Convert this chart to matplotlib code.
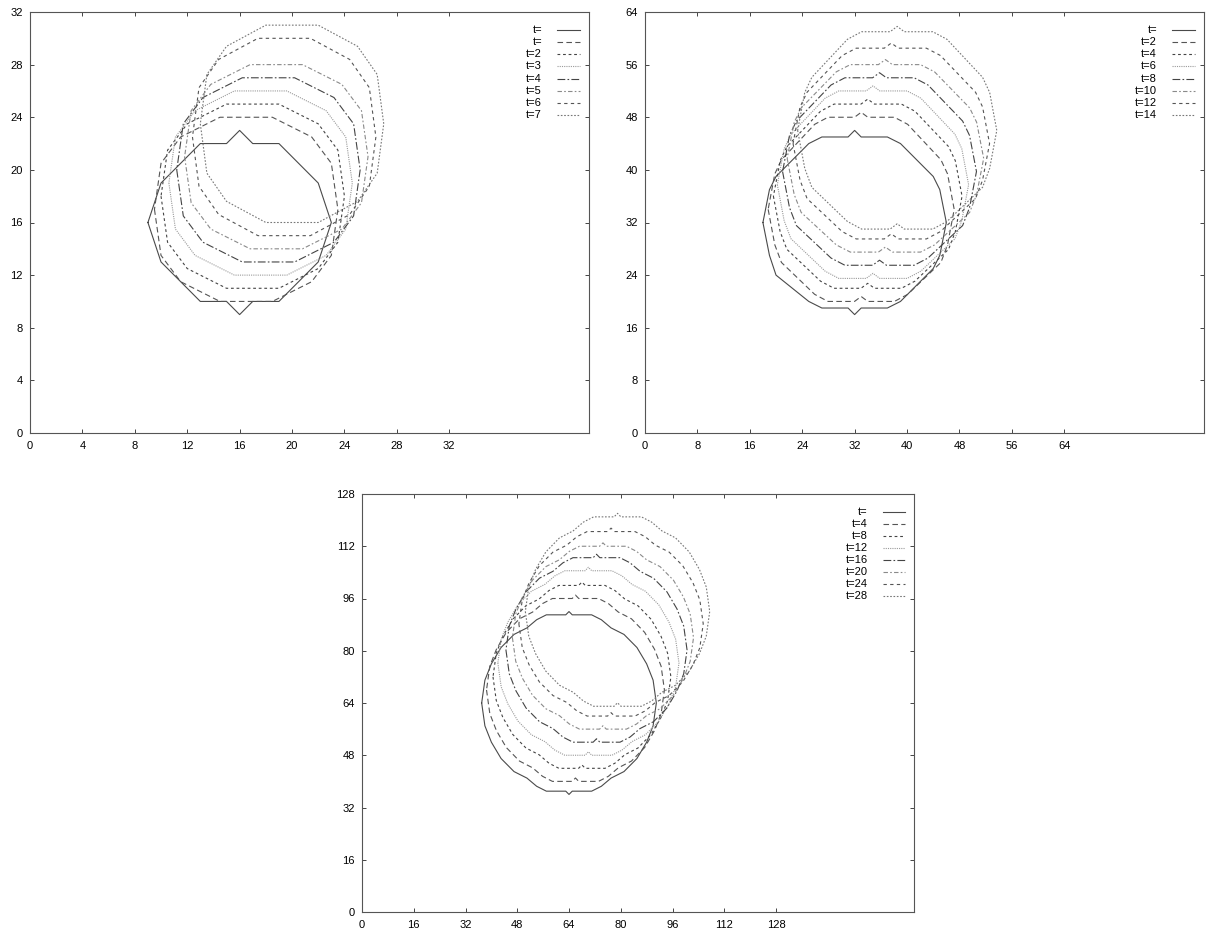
import matplotlib
matplotlib.use("Agg")
import matplotlib.pyplot as plt
from matplotlib.transforms import Affine2D

# fuente parecida a la de gnuplot (helvetica)
plt.rcParams['font.family'] = ['Liberation Sans', 'DejaVu Sans']
plt.rcParams['font.size'] = 8

# ------------------------------
# Datos
# ------------------------------

# Panel 1: malla de 32
labels1 = ["t=", "t=", "t=2", "t=3", "t=4", "t=5", "t=6", "t=7"]
circ1_x = [9, 10, 13, 15, 16, 17, 19, 22, 23, 22, 19, 17, 16, 15, 13, 10, 9]
circ1_y = [16, 13, 10, 10, 9, 10, 10, 13, 16, 19, 22, 22, 23, 22, 22, 19, 16]
# contorno de las curvas desplazadas, relativo al centro (medio ancho 7, media altura 7)
shape1_x = [-7, -6.5, -5, -2, 2, 5, 6.5, 7, 6.5, 5, 2, -2, -5, -6.5, -7]
shape1_y = [0, -3.5, -5.5, -7, -7, -5.5, -3.5, 0, 3.5, 5.5, 7, 7, 5.5, 3.5, 0]
cx1 = [16.5, 17, 17.6, 18.2, 18.8, 19.4, 20]
cy1 = [17, 18, 19, 20, 21, 22.5, 23.5]
a1 = [7, 7, 7, 7, 7, 7, 7]
h1 = [7, 7, 7, 7, 7, 7.5, 7.5]

# Panel 2: malla de 64
labels2 = ["t=", "t=2", "t=4", "t=6", "t=8", "t=10", "t=12", "t=14"]
circ2_x = [18, 19, 20, 25, 27, 31, 32, 33, 37, 39, 44, 45, 46, 45, 44, 39, 37, 33, 32, 31, 27, 25, 20, 19, 18]
circ2_y = [32, 27, 24, 20, 19, 19, 18, 19, 19, 20, 25, 27, 32, 37, 39, 44, 45, 45, 46, 45, 45, 44, 39, 37, 32]
shape2_x = [-14, -13, -12, -7, -5, -1, 0, 1, 5, 7, 12, 13, 14, 13, 12, 7, 5, 1, 0, -1, -5, -7, -12, -13, -14]
shape2_y = [0, -5, -7.5, -12, -13, -13, -12.3, -13, -13, -12, -7.5, -5, 0, 5, 7, 12, 13, 13, 13.7, 13, 13, 12, 7, 5, 0]
cx2 = [33, 34, 34.8, 35.8, 36.7, 37.6, 38.5]
cy2 = [34, 36, 37.75, 39.75, 41.75, 44, 46]
a2 = [14.2, 14.4, 14.6, 14.8, 15, 15, 15.2]
h2 = [14, 14, 14.25, 14.25, 14.25, 14.5, 15]

# Panel 3: malla de 128
labels3 = ["t=", "t=4", "t=8", "t=12", "t=16", "t=20", "t=24", "t=28"]
circ3_x = [37, 38, 40, 43, 47, 51, 54, 57, 63, 64, 65, 71, 74, 77, 81, 85, 88, 90, 91,
           90, 88, 85, 81, 77, 74, 71, 65, 64, 63, 57, 54, 51, 47, 43, 40, 38, 37]
circ3_y = [64, 57, 52, 47, 43, 41, 38.5, 37, 37, 36, 37, 37, 38.5, 41, 43, 47, 52, 57, 64,
           71, 76, 81, 85, 87, 89.5, 91, 91, 92, 91, 91, 89.5, 87, 85, 81, 76, 71, 64]
shape3_x = [-27, -26, -24, -21, -17, -13, -10, -7, -1, 0, 1, 7, 10, 13, 17, 21, 24, 26, 27,
            26, 24, 21, 17, 13, 10, 7, 1, 0, -1, -7, -10, -13, -17, -21, -24, -26, -27]
shape3_y = [0, -7, -12, -17, -21, -23, -25.5, -27, -27, -26, -27, -27, -25.5, -23, -21, -17, -12, -7, 0,
            7, 12, 17, 21, 23, 25.5, 27, 27, 28, 27, 27, 25.5, 23, 21, 17, 12, 7, 0]
cx3 = [66, 68, 70, 72.5, 74.5, 77, 79]
cy3 = [68, 72, 76.25, 80.25, 84, 88.25, 92]
a3 = [27.5, 27.5, 28, 28, 28, 28.5, 28.5]
h3 = [28, 28, 28.25, 28.25, 28, 28.25, 29]

# estilos de linea tipo gnuplot (uno por curva)
estilos = [
    dict(color='#4a4a4a', linestyle='-'),
    dict(color='#555555', linestyle=(0, (5, 3))),
    dict(color='#444444', linestyle=(0, (2.5, 2.5))),
    dict(color='#9a9a9a', linestyle=(0, (1, 1))),
    dict(color='#444444', linestyle=(0, (7, 2, 1.5, 2))),
    dict(color='#8a8a8a', linestyle=(0, (4, 2, 1.5, 2))),
    dict(color='#555555', linestyle=(0, (3, 3))),
    dict(color='#777777', linestyle=(0, (1.5, 1.5))),
]


def dibujar_panel(ax, n, circ_x, circ_y, shape_x, shape_y, cx, cy, a, h, labels):
    a0 = max(shape_x)
    h0 = max(abs(v) for v in shape_y if v < 0)
    # curva inicial
    ax.plot(circ_x, circ_y, lw=0.8, **estilos[0])
    # curvas siguientes: contorno colocado en su centro y con su tamano
    for i in range(len(cx)):
        tr = Affine2D().scale(a[i] / a0, h[i] / h0).translate(cx[i], cy[i]) + ax.transData
        ax.plot(shape_x, shape_y, lw=0.8, transform=tr, **estilos[i + 1])

    ax.set_xlim(0, n * 4 / 3)
    ax.set_ylim(0, n)
    ax.set_xticks(range(0, n + 1, n // 8))
    ax.set_yticks(range(0, n + 1, n // 8))
    ax.tick_params(direction='in', length=3, width=0.7, color='#444444',
                   top=True, right=True, labelsize=8, pad=5)
    ax.tick_params(axis='x', pad=6)
    for s in ax.spines.values():
        s.set_color('#555555')
        s.set_linewidth(0.8)

    # leyenda a mano (texto alineado a la derecha como gnuplot)
    for i, lab in enumerate(labels):
        yy = 0.957 - i * 0.0288
        ax.text(0.916, yy, lab, transform=ax.transAxes, ha='right', va='center', fontsize=8)
        ax.plot([0.943, 0.984], [yy, yy], transform=ax.transAxes, lw=0.8,
                clip_on=False, **estilos[i])


fig = plt.figure(figsize=(12.07, 9.32), dpi=100)
ax1 = fig.add_axes([30 / 1207, 1 - 433 / 932, 559 / 1207, 421 / 932])
ax2 = fig.add_axes([645 / 1207, 1 - 433 / 932, 559 / 1207, 421 / 932])
ax3 = fig.add_axes([362 / 1207, 1 - 912 / 932, 552 / 1207, 418 / 932])

dibujar_panel(ax1, 32, circ1_x, circ1_y, shape1_x, shape1_y, cx1, cy1, a1, h1, labels1)
dibujar_panel(ax2, 64, circ2_x, circ2_y, shape2_x, shape2_y, cx2, cy2, a2, h2, labels2)
dibujar_panel(ax3, 128, circ3_x, circ3_y, shape3_x, shape3_y, cx3, cy3, a3, h3, labels3)

fig.savefig("out.png", dpi=100)
